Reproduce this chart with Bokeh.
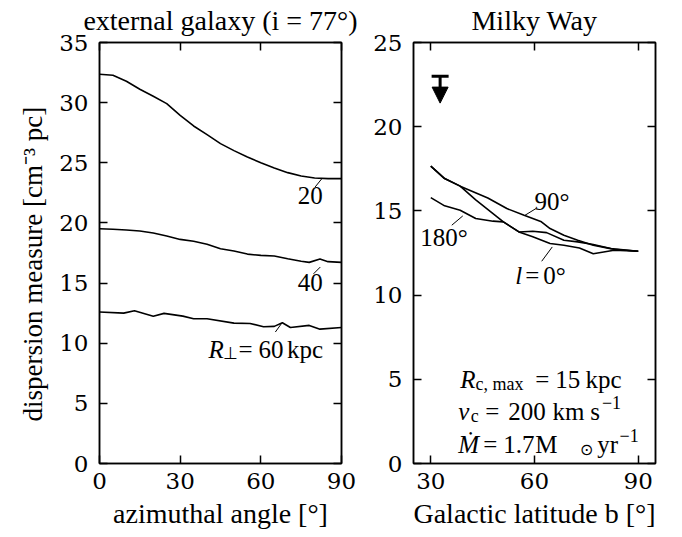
from bokeh.plotting import figure
from bokeh.layouts import row
from bokeh.models import (Range1d, FixedTicker, LinearAxis, Label, Arrow, NormalHead,
                          CustomLabelingPolicy, Title)
from bokeh.embed import file_html
from bokeh.resources import INLINE

# ---------------- data: external galaxy (i = 77 deg) ----------------
ang_r20 = [0, 5, 10, 15, 20, 25, 30, 35, 40, 45, 50, 55, 60, 65, 70, 75, 80, 85, 90]
dm_r20 = [32.36, 32.28, 31.78, 31.11, 30.53, 29.92, 28.95, 28.06, 27.34, 26.59,
          26.01, 25.48, 25.01, 24.57, 24.18, 23.90, 23.74, 23.68, 23.68]

ang_r40 = [0, 5, 10, 15, 20, 25, 30, 35, 40, 45, 50, 55, 60, 65, 70, 75, 78, 82, 85, 90]
dm_r40 = [19.52, 19.47, 19.41, 19.33, 19.16, 18.91, 18.63, 18.47, 18.22, 17.85,
          17.66, 17.41, 17.30, 17.25, 17.02, 16.81, 16.72, 17.00, 16.78, 16.72]

ang_r60 = [0, 9, 13, 20, 24, 31, 35, 40, 50, 56, 61, 65, 68, 71, 78, 82, 90]
dm_r60 = [12.59, 12.50, 12.70, 12.25, 12.48, 12.25, 12.03, 12.03, 11.67, 11.64,
          11.37, 11.40, 11.70, 11.31, 11.48, 11.17, 11.31]

# ---------------- data: Milky Way ----------------
b_l0 = [30, 34, 38.5, 43, 51, 55.5, 59.5, 64.5, 68.5, 73, 77, 83, 90]
dm_l0 = [17.66, 16.92, 16.47, 15.65, 14.35, 13.75, 13.46, 13.06, 12.96, 12.80, 12.46, 12.66, 12.60]

b_l90 = [30, 34, 38.5, 46.5, 52, 57, 62, 64.5, 68.5, 72.5, 77, 82, 90]
dm_l90 = [17.66, 16.92, 16.47, 15.77, 15.14, 14.74, 14.35, 13.95, 13.55, 13.26, 12.96, 12.76, 12.60]

b_l180 = [30, 34, 38.5, 43, 48, 51, 55.5, 59.5, 63.5, 68.5, 72.5, 77, 83, 90]
dm_l180 = [15.79, 15.30, 15.04, 14.55, 14.39, 14.35, 13.75, 13.79, 13.71, 13.26, 13.16, 13.00, 12.72, 12.60]

# upper limit (observed)
b_limit = 32.7
dm_limit = 23.0
dm_limit_tip = 21.4

# tick labels
left_xticks = [0, 30, 60, 90]
left_yticks = [0, 5, 10, 15, 20, 25, 30, 35]
right_xticks = [30, 60, 90]
right_yticks = [0, 5, 10, 15, 20, 25]

TXT = "Liberation Serif"
TICKF = "DejaVu Serif"
TICKS = "23px"
LBLS = "28px"
ANNS = 25

NO_LABELS = CustomLabelingPolicy(code="return new Set()")


def style_axes(p, xt, yt):
    p.grid.visible = False
    p.outline_line_color = "black"
    p.outline_line_width = 1.5
    p.background_fill_color = "white"
    p.border_fill_color = "white"
    for ax, t in ((p.xaxis[0], xt), (p.yaxis[0], yt)):
        ax.ticker = FixedTicker(ticks=t)
        ax.major_tick_in = 8
        ax.major_tick_out = 0
        ax.minor_tick_in = 0
        ax.minor_tick_out = 0
        ax.axis_line_width = 1.5
        ax.major_tick_line_width = 1.5
        ax.major_label_text_font = TICKF
        ax.major_label_text_font_size = TICKS
        ax.major_label_text_color = "black"
        ax.axis_label_text_font = TXT
        ax.axis_label_text_font_size = LBLS
        ax.axis_label_text_font_style = "normal"
        ax.axis_label_text_color = "black"
    p.xaxis[0].major_label_standoff = 9
    p.xaxis[0].axis_label_standoff = 6
    p.yaxis[0].major_label_standoff = 11
    for loc, t in (("right", yt), ("above", xt)):
        ax = LinearAxis(ticker=FixedTicker(ticks=t), major_tick_in=8, major_tick_out=0,
                        minor_tick_in=0, minor_tick_out=0, axis_line_width=1.5,
                        major_tick_line_width=1.5, major_label_text_font_size="1px",
                        major_label_standoff=0, major_label_policy=NO_LABELS)
        p.add_layout(ax, loc)


def make_title(text, standoff=5, offset=0):
    return Title(text=text, align="center", text_font=TXT, text_font_size="28px",
                 text_font_style="normal", text_color="black", standoff=standoff,
                 offset=offset)


def txt(p, x, y, s, dx=0, dy=0, size=ANNS, style="normal", align="left",
        baseline="alphabetic"):
    p.add_layout(Label(x=x, y=y, x_offset=dx, y_offset=dy, text=s, text_font=TXT,
                       text_font_size=f"{size}px", text_font_style=style,
                       text_align=align, text_baseline=baseline, text_color="black"))


# ---------------- left panel ----------------
p1 = figure(frame_width=242, frame_height=421,
            min_border_left=99, min_border_right=20, min_border_top=40, min_border_bottom=5,
            x_range=Range1d(0, 90), y_range=Range1d(0, 35),
            output_backend="svg", toolbar_location=None)
p1.title = make_title("external galaxy (i = 77°)")
p1.xaxis.axis_label = "azimuthal angle [°]"
style_axes(p1, left_xticks, left_yticks)
p1.add_layout(Title(text="dispersion measure [cm⁻³ pc]", align="left", text_font=TXT,
                    text_font_size="27px", text_font_style="normal", text_color="black",
                    standoff=18, offset=42), "left")

for a, d in ((ang_r20, dm_r20), (ang_r40, dm_r40), (ang_r60, dm_r60)):
    p1.line(a, d, line_color="black", line_width=1.6)

# leader lines for curve labels
p1.segment(x0=[80.2, 79.6, 65.4], y0=[22.99, 15.77, 10.93],
           x1=[82.7, 82.1, 67.8], y1=[23.68, 16.33, 11.67],
           line_color="black", line_width=1)
txt(p1, 78.4, 22.32, "20", align="center", baseline="middle")
txt(p1, 78.4, 15.08, "40", align="center", baseline="middle")
txt(p1, 0, 0, "R", dx=109, dy=113.6, style="italic")
txt(p1, 0, 0, "⊥", dx=123, dy=110, size=17)
txt(p1, 0, 0, "=", dx=139, dy=113.6)
txt(p1, 0, 0, "60", dx=159, dy=113.6)
txt(p1, 0, 0, "kpc", dx=187.5, dy=113.6)

# ---------------- right panel ----------------
p2 = figure(frame_width=242, frame_height=421,
            min_border_left=52, min_border_right=10, min_border_top=40, min_border_bottom=5,
            x_range=Range1d(25, 95), y_range=Range1d(0, 25),
            output_backend="svg", toolbar_location=None)
p2.title = make_title("Milky Way")
p2.xaxis.axis_label = "Galactic latitude b [°]"
style_axes(p2, right_xticks, right_yticks)

for b, d in ((b_l0, dm_l0), (b_l90, dm_l90), (b_l180, dm_l180)):
    p2.line(b, d, line_color="black", line_width=1.6)

p2.add_layout(Arrow(end=NormalHead(size=16, fill_color="black", line_color="black"),
                    x_start=b_limit, y_start=dm_limit, x_end=b_limit, y_end=dm_limit_tip,
                    line_color="black", line_width=3))
p2.scatter([b_limit], [dm_limit], marker="dash", size=17, line_width=3, line_color="black")

p2.segment(x0=[57.25, 36.07, 62.08], y0=[14.74, 14.15, 12.01],
           x1=[60.43, 39.25, 65.14], y1=[15.14, 14.70, 12.86],
           line_color="black", line_width=1)
txt(p2, 65.06, 15.53, "90°", align="center", baseline="middle")
txt(p2, 33.84, 13.45, "180°", align="center", baseline="middle")
txt(p2, 25, 0, "l", dx=101.7, dy=188, style="italic")
txt(p2, 25, 0, "=", dx=111.7, dy=188)
txt(p2, 25, 0, "0°", dx=129.7, dy=188)

# parameter block
txt(p2, 25, 0, "R", dx=46.7, dy=84, style="italic")
txt(p2, 25, 0, "c, max", dx=62, dy=80, size=18)
txt(p2, 25, 0, "=", dx=121.7, dy=84)
txt(p2, 25, 0, "15", dx=141.7, dy=84)
txt(p2, 25, 0, "kpc", dx=172, dy=84)

txt(p2, 25, 0, "v", dx=44.7, dy=52, style="italic")
txt(p2, 25, 0, "c", dx=57.2, dy=48, size=18)
txt(p2, 25, 0, "=", dx=71.7, dy=52)
txt(p2, 25, 0, "200", dx=94.7, dy=52)
txt(p2, 25, 0, "km", dx=139, dy=52)
txt(p2, 25, 0, "s", dx=176.7, dy=52)
txt(p2, 25, 0, "−1", dx=188.4, dy=61.3, size=18)

txt(p2, 25, 0, "Ṁ", dx=44.7, dy=18.6, style="italic")
txt(p2, 25, 0, "=", dx=69.7, dy=18.6)
txt(p2, 25, 0, "1.7", dx=89.7, dy=18.6)
txt(p2, 25, 0, "M", dx=121.7, dy=18.6)
txt(p2, 25, 0, "⊙", dx=166, dy=14, size=16)
txt(p2, 25, 0, "yr", dx=183.7, dy=18.6)
txt(p2, 25, 0, "−1", dx=206, dy=28.3, size=18)

layout = row(p1, p2)
open("out.html", "w").write(file_html(layout, INLINE))
